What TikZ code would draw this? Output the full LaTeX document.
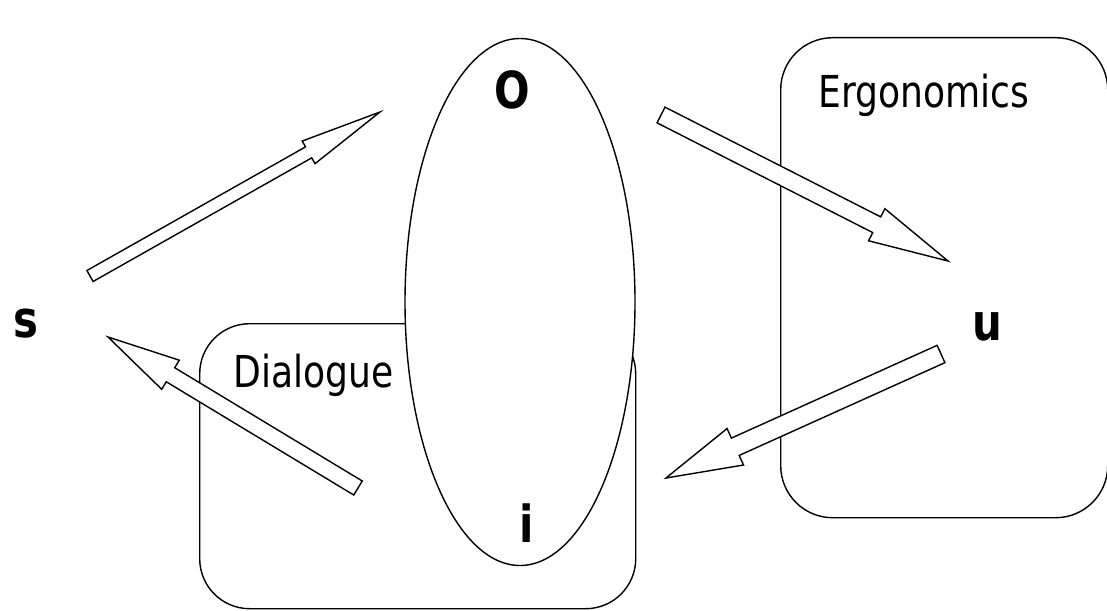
\documentclass[tikz,border=0pt]{standalone}
\usepackage{fontspec}
\usetikzlibrary{calc,shapes.geometric}
\newfontfamily\slidefont[FakeStretch=0.82]{DejaVu Sans}

% outlined block arrow: #1 tail, #2 tip, #3 half shaft, #4 half head, #5 head length
\newcommand{\hollowarrow}[5]{%
  \coordinate (hb) at ($(#2)!#5!(#1)$);
  \filldraw[fill=white] ($(#1)!#3!90:(#2)$) -- ($(hb)!#3!90:(#2)$) -- ($(hb)!#4!90:(#2)$)
    -- (#2) -- ($(hb)!#4!-90:(#2)$) -- ($(hb)!#3!-90:(#2)$) -- ($(#1)!#3!-90:(#2)$) -- cycle;
}

\tikzset{
  panel/.style={draw,rounded corners=#1,anchor=north west,inner sep=0pt},
  word/.style={inner sep=0pt,font=\slidefont\fontsize{44}{50}\selectfont},
  letter/.style={inner sep=0pt,font=\slidefont\bfseries\fontsize{51}{58}\selectfont}
}

\begin{document}
\begin{tikzpicture}[x=1pt,y=-1pt,line width=1.4pt,line join=miter]
\useasboundingbox (0,0) rectangle (1107,610);

\node[panel=50pt,minimum width=436pt,minimum height=285pt] (dialogue) at (199,323) {};
\node[draw,fill=white,ellipse,inner sep=0pt,minimum width=230pt,minimum height=527pt] (obj) at (520,302) {};
\node[panel=52pt,minimum width=327pt,minimum height=480pt] (ergo) at (780,37) {};

\node[word,anchor=base west] (dlabel) at (233,387) {Dialogue};
\node[word,anchor=base west] (elabel) at (818,107) {Ergonomics};

\node[letter] (s) at (26,324) {s};
\node[letter] (O) at (512,90) {O};
\node[letter] (u) at (987,327) {u};
\node[letter] (i) at (527,523) {i};

% arrow ends
\coordinate (sO-tail) at (90,276);  \coordinate (sO-tip) at (380,112);
\coordinate (Ou-tail) at (661,115); \coordinate (Ou-tip) at (948,261);
\coordinate (ui-tail) at (941,354); \coordinate (ui-tip) at (666,478);
\coordinate (is-tail) at (358,488); \coordinate (is-tip) at (108,337);

\hollowarrow{sO-tail}{sO-tip}{6.3pt}{13pt}{82pt}
\hollowarrow{Ou-tail}{Ou-tip}{8.8pt}{18pt}{80pt}
\hollowarrow{ui-tail}{ui-tip}{9.5pt}{20pt}{76pt}
\hollowarrow{is-tail}{is-tip}{8.2pt}{17pt}{73pt}
\end{tikzpicture}
\end{document}
